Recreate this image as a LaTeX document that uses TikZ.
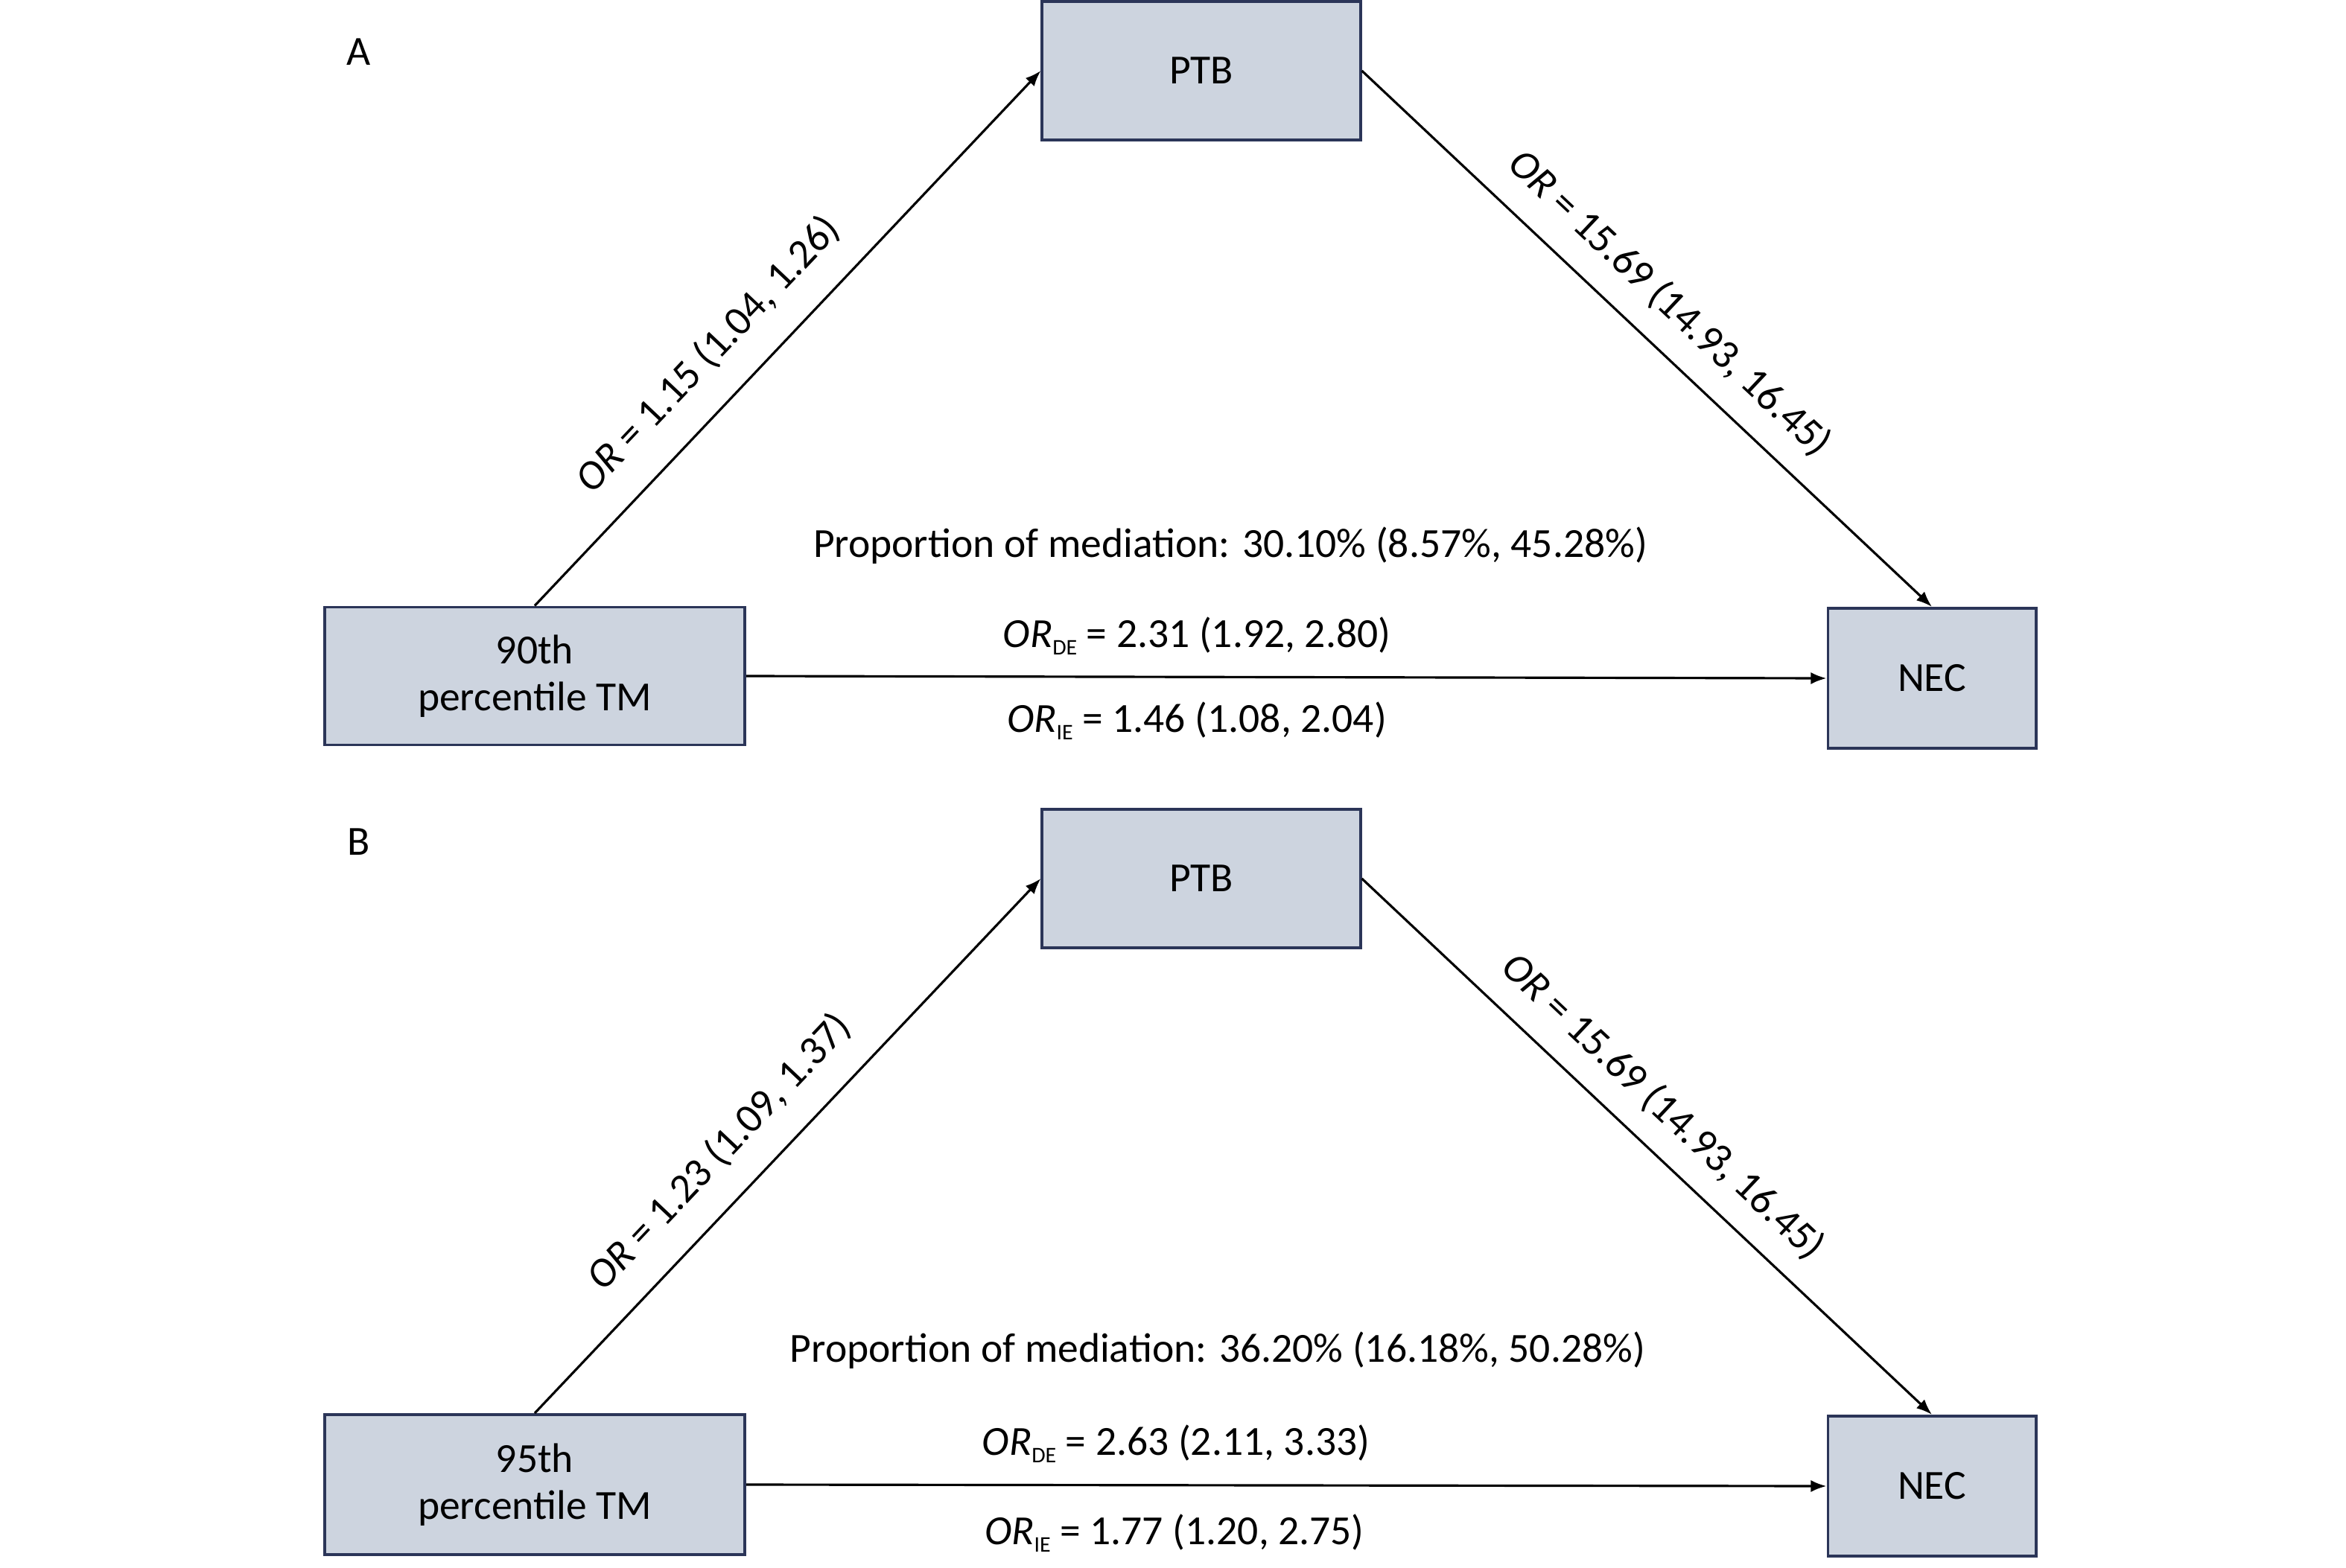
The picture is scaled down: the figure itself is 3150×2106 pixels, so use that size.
\documentclass[tikz,border=0pt]{standalone}
\usepackage{fontspec}
\setmainfont{Carlito}
\usetikzlibrary{arrows.meta,calc}
\definecolor{boxfill}{RGB}{205,212,223}
\definecolor{boxline}{RGB}{43,53,88}
\newcommand{\orsub}[1]{\textit{OR}\raisebox{-3pt}{\fontsize{8.5}{9}\selectfont #1}}

\begin{document}
\begin{tikzpicture}[x=0.01cm,y=-0.01cm,
    every node/.style={font=\fontsize{15.8}{17.8}\selectfont},
    var/.style={draw=boxline,fill=boxfill,line width=1.1pt,align=center,inner sep=0pt},
    link/.style={line width=0.9pt,-{Latex[length=6pt,width=4.6pt]}},
    orlab/.style={sloped,above,inner sep=#1}]
    \useasboundingbox (0,0) rectangle (3150,2106);

    \node (panA) at (482,70) {A};
    \node[var,minimum width=4.27cm,minimum height=1.86cm] (ptbA) at (1613,95) {PTB};
    \node[var,minimum width=5.64cm,minimum height=1.85cm] (tmA) at (718,908) {90th\\percentile TM};
    \node[var,minimum width=2.79cm,minimum height=1.88cm] (necA) at (2594,911) {NEC};
    \node (propA) at (1652,733) {Proportion of mediation: 30.10\% (8.57\%, 45.28\%)};
    \node (deA) at (1607,854) {\orsub{DE} = 2.31 (1.92, 2.80)};
    \node (ieA) at (1607,968) {\orsub{IE} = 1.46 (1.08, 2.04)};
    \draw[link] (tmA.north) -- node[orlab=10.5pt,pos=0.41] (orA1) {\textit{OR} = 1.15 (1.04, 1.26)} (ptbA.west);
    \draw[link] (ptbA.east) -- node[orlab=8.5pt,pos=0.49] (orA2) {\textit{OR} = 15.69 (14.93, 16.45)} (necA.north);
    \draw[link] (tmA.east) -- (necA.west);

    \node (panB) at (482,1131) {B};
    \node[var,minimum width=4.27cm,minimum height=1.86cm] (ptbB) at (1613,1180) {PTB};
    \node[var,minimum width=5.64cm,minimum height=1.88cm] (tmB) at (718,1994) {95th\\percentile TM};
    \node[var,minimum width=2.79cm,minimum height=1.88cm] (necB) at (2594,1996) {NEC};
    \node (propB) at (1635,1814) {Proportion of mediation: 36.20\% (16.18\%, 50.28\%)};
    \node (deB) at (1579,1939) {\orsub{DE} = 2.63 (2.11, 3.33)};
    \node (ieB) at (1577,2059) {\orsub{IE} = 1.77 (1.20, 2.75)};
    \draw[link] (tmB.north) -- node[orlab=10pt,pos=0.43] (orB1) {\textit{OR} = 1.23 (1.09, 1.37)} (ptbB.west);
    \draw[link] (ptbB.east) -- node[orlab=8pt,pos=0.48] (orB2) {\textit{OR} = 15.69 (14.93, 16.45)} (necB.north);
    \draw[link] (tmB.east) -- (necB.west);
\end{tikzpicture}
\end{document}
